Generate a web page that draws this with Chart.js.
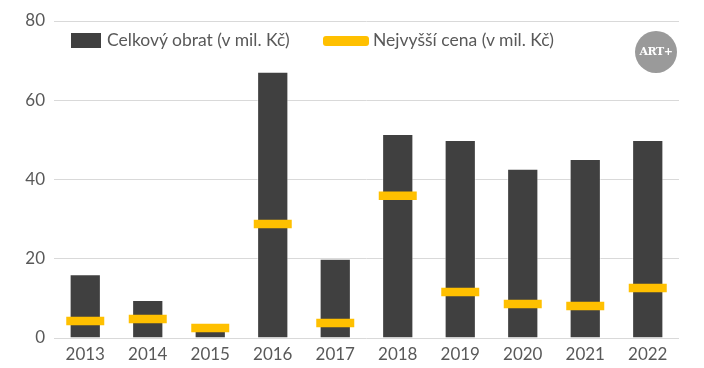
<!DOCTYPE html>
<html>
<head>
<meta charset="utf-8">
<script src="https://cdn.jsdelivr.net/npm/chart.js@4/dist/chart.umd.min.js"></script>
<style>
  body { margin: 0; background: #fff; }
  #wrap { position: relative; width: 704px; height: 368px; }
  .leg { position: absolute; font: 17.5px Lato, "Open Sans", sans-serif; color: #595959; white-space: nowrap; }
  .box { position: absolute; }
  #logo { position: absolute; left: 635px; top: 31px; width: 42px; height: 42px; border-radius: 50%;
          background: #9a9a9a; color: #fff; font: bold 11px "DejaVu Serif", serif; text-align: center; line-height: 42px; letter-spacing: -0.5px; }
</style>
</head>
<body>
<div id="wrap">
  <canvas id="chart" width="704" height="368"></canvas>
  <div class="box" style="left:71px;top:33px;width:30px;height:15px;background:#404040"></div>
  <div class="leg" style="left:107px;top:29px">Celkový obrat (v mil. Kč)</div>
  <div class="box" style="left:323px;top:36px;width:46px;height:10px;background:#FFC000;border-radius:3px"></div>
  <div class="leg" style="left:373px;top:29px">Nejvyšší cena (v mil. Kč)</div>
  <div id="logo">ART+</div>
</div>
<script>
// data
var years = ["2013", "2014", "2015", "2016", "2017", "2018", "2019", "2020", "2021", "2022"];
var turnover = [16.1, 9.6, 3.8, 67.2, 20.0, 51.5, 50.0, 42.7, 45.2, 50.0];
var topPrice = [4.3, 4.8, 2.5, 28.8, 3.8, 35.9, 11.6, 8.6, 8.1, 12.6];
var yTicks = [0, 20, 40, 60, 80];

var tickFont = { family: "Lato, 'Open Sans', sans-serif", size: 17 };

var ctx = document.getElementById("chart").getContext("2d");
new Chart(ctx, {
  type: "bar",
  data: {
    labels: years,
    datasets: [
      {
        label: "Celkový obrat (v mil. Kč)",
        data: turnover,
        backgroundColor: "#404040",
        borderColor: "rgba(255,255,255,0.5)",
        borderWidth: 1,
        categoryPercentage: 1,
        barPercentage: 0.5,
        order: 1
      },
      {
        type: "line",
        label: "Nejvyšší cena (v mil. Kč)",
        data: topPrice,
        showLine: false,
        pointStyle: "line",
        pointRadius: 19,
        pointHoverRadius: 19,
        pointBorderWidth: 8.5,
        pointBorderColor: "#FFC000",
        pointBackgroundColor: "#FFC000",
        order: 0
      }
    ]
  },
  options: {
    responsive: false,
    animation: false,
    layout: { autoPadding: false, padding: { left: 0, right: 25, top: 21, bottom: 0 } },
    plugins: { legend: { display: false }, tooltip: { enabled: false } },
    scales: {
      x: {
        grid: { display: false, drawTicks: false },
        border: { display: false },
        ticks: { color: "#595959", font: tickFont, padding: 6 },
        afterFit: function (s) { s.height = 30; }
      },
      y: {
        min: 0,
        max: 80,
        afterBuildTicks: function (s) { s.ticks = yTicks.map(function (v) { return { value: v }; }); },
        grid: { color: "#d9d9d9", drawTicks: false },
        border: { display: false },
        ticks: { color: "#595959", font: tickFont, padding: 9 },
        afterFit: function (s) { s.width = 54; }
      }
    }
  }
});
</script>
</body>
</html>
